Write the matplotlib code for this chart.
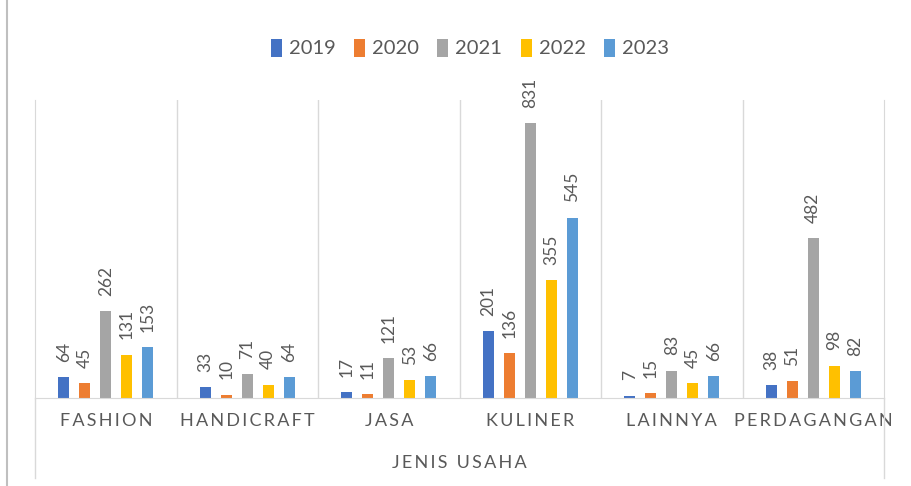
import numpy as np
import matplotlib.pyplot as plt
from matplotlib.lines import Line2D

# data
categories = ["FASHION", "HANDICRAFT", "JASA", "KULINER", "LAINNYA", "PERDAGANGAN"]
years = ["2019", "2020", "2021", "2022", "2023"]
v2019 = [64, 33, 17, 201, 7, 38]
v2020 = [45, 10, 11, 136, 15, 51]
v2021 = [262, 71, 121, 831, 83, 482]
v2022 = [131, 40, 53, 355, 45, 98]
v2023 = [153, 64, 66, 545, 66, 82]
series = [v2019, v2020, v2021, v2022, v2023]
colors = ["#4472C4", "#ED7D31", "#A5A5A5", "#FFC000", "#5B9BD5"]

plt.rcParams['font.family'] = ['Lato', 'DejaVu Sans']
txt = "#595959"
line_c = "#D9D9D9"

fig = plt.figure(figsize=(9.11, 4.86), dpi=100)
ax = fig.add_axes([35/911, 88/486, 849/911, 298/486])

x = np.arange(len(categories))
step, width = 0.148, 0.078
for j, (vals, c, yr) in enumerate(zip(series, colors, years)):
    pos = x + (j - 2) * step
    ax.bar(pos, vals, width=width, color=c, label=yr)
    for px, v in zip(pos, vals):
        ax.annotate(str(v), (px, v), xytext=(0, 11), textcoords='offset points',
                    rotation=90, ha='center', va='bottom', fontsize=12.5, color=txt)

ax.set_xlim(-0.5, len(categories) - 0.5)
ax.set_ylim(0, 900)
ax.set_yticks([])
ax.set_xticks(x)
ax.set_xticklabels(['\u2009'.join(c) for c in categories], fontsize=13, color=txt)
ax.tick_params(axis='x', length=0, pad=11)

# separators between categories
for s in np.arange(0.5, len(categories) - 0.5, 1):
    ax.axvline(s, color=line_c, lw=1)
ax.spines['top'].set_visible(False)
for sp in ['left', 'right', 'bottom']:
    ax.spines[sp].set_color(line_c)
# outer lines run down through the label area
for xx in [0, 1]:
    ax.plot([xx, xx], [-0.27, 0], transform=ax.transAxes, color=line_c, lw=1, clip_on=False)

fig.text(0.504, 1 - 463/486, '\u2009'.join("JENIS USAHA"), ha='center', va='center',
         fontsize=13, color=txt)

fig.legend(loc='center', bbox_to_anchor=(470/911, 1 - 48/486), ncol=5, frameon=False,
           handlelength=0.55, handleheight=1.0, handletextpad=0.35, columnspacing=0.9,
           prop={'size': 14.5}, labelcolor=txt)

# chart frame edge on the left
fig.add_artist(Line2D([7/911, 7/911], [0, 1], color="#BFBFBF", lw=1.5))

fig.savefig("out.png", dpi=100)
